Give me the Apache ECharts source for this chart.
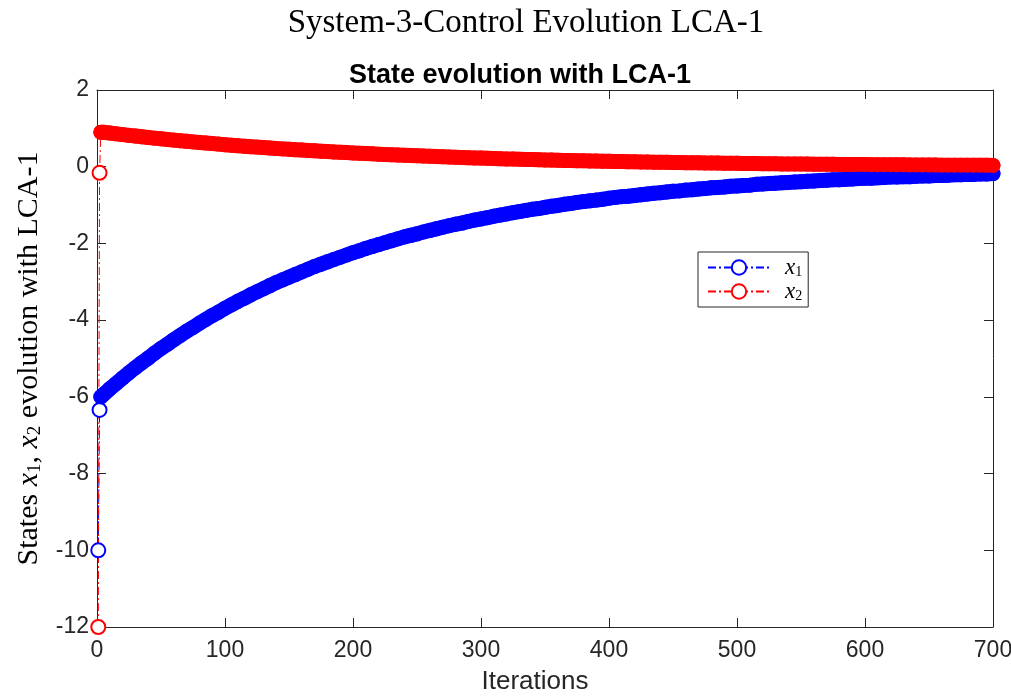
<!DOCTYPE html>
<html>
<head>
<meta charset="utf-8">
<script src="https://cdn.jsdelivr.net/npm/echarts@6/dist/echarts.min.js"></script>
<style>
  html, body { margin: 0; padding: 0; background: #ffffff; }
  #chart { width: 1011px; height: 696px; }
</style>
</head>
<body>
<div id="chart"></div>
<script>
// Iterations and state values of the closed-loop system under LCA-1.
const startIterations = [1, 2, 3];
const x1Start = [-10, -6.34, -6.0];
const x2Start = [-12, -0.16, 0.9];

// From iteration 5 onward the states are listed every 5 iterations (5 ... 700).
const denseStep = 5;
const x1Dense = [
  -5.94,-5.79,-5.65,-5.51,-5.37,-5.24,-5.11,-4.99,-4.86,-4.74,
  -4.63,-4.51,-4.40,-4.29,-4.19,-4.08,-3.98,-3.88,-3.79,-3.69,
  -3.60,-3.51,-3.43,-3.34,-3.26,-3.18,-3.10,-3.02,-2.95,-2.88,
  -2.81,-2.74,-2.67,-2.60,-2.54,-2.48,-2.42,-2.36,-2.30,-2.24,
  -2.19,-2.13,-2.08,-2.03,-1.98,-1.93,-1.88,-1.83,-1.79,-1.75,
  -1.70,-1.66,-1.62,-1.58,-1.54,-1.50,-1.47,-1.43,-1.39,-1.36,
  -1.33,-1.29,-1.26,-1.23,-1.20,-1.17,-1.14,-1.11,-1.09,-1.06,
  -1.03,-1.01,-0.98,-0.96,-0.93,-0.91,-0.89,-0.87,-0.85,-0.82,
  -0.80,-0.78,-0.77,-0.75,-0.73,-0.71,-0.69,-0.68,-0.66,-0.64,
  -0.63,-0.61,-0.60,-0.58,-0.57,-0.55,-0.54,-0.53,-0.51,-0.50,
  -0.49,-0.48,-0.46,-0.45,-0.44,-0.43,-0.42,-0.41,-0.40,-0.39,
  -0.38,-0.37,-0.36,-0.35,-0.34,-0.34,-0.33,-0.32,-0.31,-0.30,
  -0.30,-0.29,-0.28,-0.27,-0.27,-0.26,-0.26,-0.25,-0.24,-0.24,
  -0.23,-0.23,-0.22,-0.21,-0.21,-0.20,-0.20,-0.19,-0.19,-0.18
];
const x2Dense = [
  0.899,0.878,0.857,0.837,0.818,0.799,0.780,0.762,0.745,0.727,
  0.710,0.694,0.678,0.662,0.647,0.632,0.617,0.603,0.589,0.575,
  0.562,0.549,0.536,0.523,0.511,0.499,0.488,0.476,0.465,0.455,
  0.444,0.434,0.424,0.414,0.404,0.395,0.386,0.377,0.368,0.359,
  0.351,0.343,0.335,0.327,0.320,0.312,0.305,0.298,0.291,0.284,
  0.278,0.271,0.265,0.259,0.253,0.247,0.241,0.235,0.230,0.225,
  0.219,0.214,0.209,0.204,0.200,0.195,0.191,0.186,0.182,0.178,
  0.173,0.169,0.165,0.162,0.158,0.154,0.151,0.147,0.144,0.140,
  0.137,0.134,0.131,0.128,0.125,0.122,0.119,0.116,0.114,0.111,
  0.108,0.106,0.103,0.101,0.099,0.096,0.094,0.092,0.090,0.088,
  0.086,0.084,0.082,0.080,0.078,0.076,0.074,0.073,0.071,0.069,
  0.068,0.066,0.065,0.063,0.062,0.060,0.059,0.057,0.056,0.055,
  0.054,0.052,0.051,0.050,0.049,0.048,0.047,0.045,0.044,0.043,
  0.042,0.041,0.040,0.039,0.039,0.038,0.037,0.036,0.035,0.034
];

const xTicks = { min: 0, max: 700, interval: 100 };
const yTicks = { min: -12, max: 2, interval: 2 };

// Number of leading points drawn with hollow markers.
const hollowCount = 2;
const markerSize = 14;
const bandWidth = 15;

// [iteration, value] pairs for one state; the leading points keep hollow
// markers, the rest use filled markers that merge into a solid band.
function buildSeriesData(startVals, denseVals) {
  const pts = startIterations.map((it, i) => [it, startVals[i]]);
  denseVals.forEach((v, i) => pts.push([(i + 1) * denseStep, v]));
  return pts.map((p, i) => (i < hollowCount ? p : {
    value: p, symbol: 'circle', symbolSize: bandWidth, itemStyle: { borderWidth: 0 }
  }));
}

// Points of the converging stretch only (iteration 3 onward).
function buildBandData(startVals, denseVals) {
  const pts = [];
  startIterations.forEach((it, i) => { if (i >= hollowCount) pts.push([it, startVals[i]]); });
  denseVals.forEach((v, i) => pts.push([(i + 1) * denseStep, v]));
  return pts;
}

const axisColor = '#262626';
const sansFont = '"Liberation Sans", Arial, sans-serif';
const serifFont = '"Liberation Serif", "DejaVu Serif", serif';
const dashDot = [8, 3, 2, 3];
const blue = '#0000ff';
const red = '#ff0000';

const chart = echarts.init(document.getElementById('chart'), null, { renderer: 'canvas' });

function frameAxis(extra) {
  return Object.assign({
    type: 'value',
    axisLine: { show: true, onZero: false, lineStyle: { color: axisColor, width: 1 } },
    axisTick: { show: true, inside: true, length: 9, lineStyle: { color: axisColor } },
    splitLine: { show: false }
  }, extra);
}

function stateSeries(name, color, startVals, denseVals) {
  return [
    {
      name: name + ' band', type: 'line',
      data: buildBandData(startVals, denseVals),
      symbol: 'none', clip: false, silent: true,
      lineStyle: { color: color, width: bandWidth, type: 'solid', cap: 'round', join: 'round' },
      z: 2
    },
    {
      name: name, type: 'line',
      data: buildSeriesData(startVals, denseVals),
      symbol: 'emptyCircle', symbolSize: markerSize, showAllSymbol: true,
      clip: false,
      color: color,
      itemStyle: { color: color, borderColor: color, borderWidth: 1.5 },
      lineStyle: { color: color, width: 1, type: dashDot },
      z: 2
    }
  ];
}

const option = {
  backgroundColor: '#ffffff',
  animation: false,
  title: [
    {
      text: 'System-3-Control Evolution LCA-1',
      left: 521, top: 2, textAlign: 'center',
      textStyle: { fontFamily: serifFont, fontWeight: 'normal', fontSize: 33, color: '#000' }
    },
    {
      text: 'State evolution with LCA-1',
      left: 515, top: 57, textAlign: 'center',
      textStyle: { fontFamily: sansFont, fontWeight: 'bold', fontSize: 27, color: '#000' }
    }
  ],
  legend: {
    left: 698, top: 252,
    orient: 'vertical',
    backgroundColor: '#ffffff',
    borderColor: axisColor, borderWidth: 1,
    padding: [4, 6, 4, 9],
    itemWidth: 62, itemHeight: 18, itemGap: 1,
    data: ['x1', 'x2'],
    formatter: function (name) {
      return '{i|x}{s|' + (name === 'x1' ? '1' : '2') + '}';
    },
    textStyle: {
      padding: [0, 0, 0, 10],
      rich: {
        i: { fontFamily: serifFont, fontStyle: 'italic', fontSize: 23, color: '#000', lineHeight: 22 },
        s: { fontFamily: serifFont, fontSize: 14, color: '#000', padding: [9, 0, 0, 0], lineHeight: 22 }
      }
    }
  },
  grid: {
    left: 97, right: 18, top: 90, bottom: 69,
    containLabel: false, outerBoundsMode: 'none'
  },
  xAxis: [
    frameAxis({
      min: xTicks.min, max: xTicks.max, interval: xTicks.interval,
      position: 'bottom',
      name: 'Iterations', nameLocation: 'middle', nameGap: 42,
      nameTextStyle: { fontFamily: sansFont, fontSize: 26, color: '#262626', padding: [0, 20, 0, 0] },
      axisLabel: { fontFamily: sansFont, fontSize: 23, color: '#262626', margin: 12 }
    }),
    frameAxis({
      min: xTicks.min, max: xTicks.max, interval: xTicks.interval,
      position: 'top', axisLabel: { show: false }
    })
  ],
  yAxis: [
    frameAxis({
      min: yTicks.min, max: yTicks.max, interval: yTicks.interval,
      position: 'left',
      name: '{n|States }{i|x}{s|1}{n|, }{i|x}{s|2}{n| evolution with LCA-1}',
      nameLocation: 'middle', nameGap: 52,
      nameTextStyle: {
        rich: {
          n: { fontFamily: serifFont, fontSize: 30, color: '#000' },
          i: { fontFamily: serifFont, fontStyle: 'italic', fontSize: 30, color: '#000' },
          s: { fontFamily: serifFont, fontSize: 19, color: '#000', padding: [12, 0, 0, 0] }
        }
      },
      axisLabel: { fontFamily: sansFont, fontSize: 23, color: '#262626', margin: 8 }
    }),
    frameAxis({
      min: yTicks.min, max: yTicks.max, interval: yTicks.interval,
      position: 'right', axisLabel: { show: false }
    })
  ],
  series: [].concat(
    stateSeries('x1', blue, x1Start, x1Dense),
    stateSeries('x2', red, x2Start, x2Dense)
  )
};

chart.setOption(option);
</script>
</body>
</html>
